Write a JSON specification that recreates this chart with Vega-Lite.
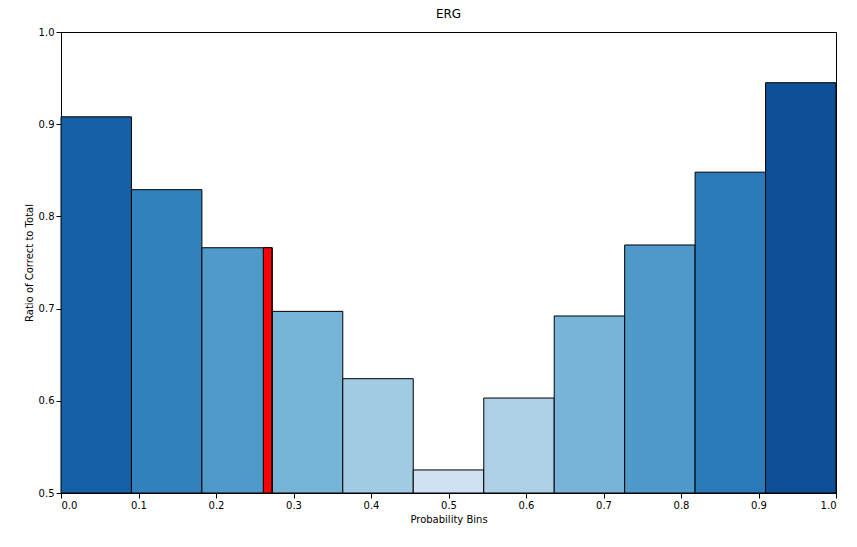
{
  "$schema": "https://vega.github.io/schema/vega-lite/v6.json",
  "width": 775,
  "height": 461,
  "autosize": "none",
  "padding": {"left": 61, "top": 32, "right": 21, "bottom": 54},
  "background": "#ffffff",
  "config": {
    "font": "DejaVu Sans",
    "view": {"stroke": "black", "strokeWidth": 1},
    "axis": {"labelFontSize": 10, "titleFontSize": 10, "titleFontWeight": "normal", "labelColor": "black", "titleColor": "black", "tickColor": "black", "domainColor": "black", "grid": false}
  },
  "title": {"text": "ERG", "fontSize": 12, "fontWeight": "normal", "offset": 6},
  "layer": [
    {
      "data": {"values": [
        {"start": 0.0, "end": 0.0909, "ratio": 0.908},
        {"start": 0.0909, "end": 0.1818, "ratio": 0.829},
        {"start": 0.1818, "end": 0.2727, "ratio": 0.766},
        {"start": 0.2727, "end": 0.3636, "ratio": 0.697},
        {"start": 0.3636, "end": 0.4545, "ratio": 0.624},
        {"start": 0.4545, "end": 0.5455, "ratio": 0.525},
        {"start": 0.5455, "end": 0.6364, "ratio": 0.603},
        {"start": 0.6364, "end": 0.7273, "ratio": 0.692},
        {"start": 0.7273, "end": 0.8182, "ratio": 0.769},
        {"start": 0.8182, "end": 0.9091, "ratio": 0.848},
        {"start": 0.9091, "end": 1.0, "ratio": 0.945}
      ]},
      "mark": {"type": "rect", "stroke": "black", "strokeWidth": 1},
      "encoding": {
        "x": {"field": "start", "type": "quantitative", "scale": {"domain": [0, 1], "nice": false}, "title": "Probability Bins", "axis": {"format": ".1f", "values": [0, 0.1, 0.2, 0.3, 0.4, 0.5, 0.6, 0.7, 0.8, 0.9, 1.0]}},
        "x2": {"field": "end"},
        "y": {"field": "ratio", "type": "quantitative", "scale": {"domain": [0.5, 1], "nice": false}, "title": "Ratio of Correct to Total", "axis": {"format": ".1f", "values": [0.5, 0.6, 0.7, 0.8, 0.9, 1.0]}},
        "y2": {"datum": 0.5},
        "color": {"field": "ratio", "type": "quantitative", "scale": {"scheme": "blues", "domain": [0.525, 0.96]}, "legend": null}
      }
    },
    {
      "data": {"values": [{"start": 0.261, "end": 0.272, "ratio": 0.766}]},
      "mark": {"type": "rect", "color": "red", "stroke": "black", "strokeWidth": 1},
      "encoding": {
        "x": {"field": "start", "type": "quantitative"},
        "x2": {"field": "end"},
        "y": {"field": "ratio", "type": "quantitative"},
        "y2": {"datum": 0.5}
      }
    }
  ]
}
